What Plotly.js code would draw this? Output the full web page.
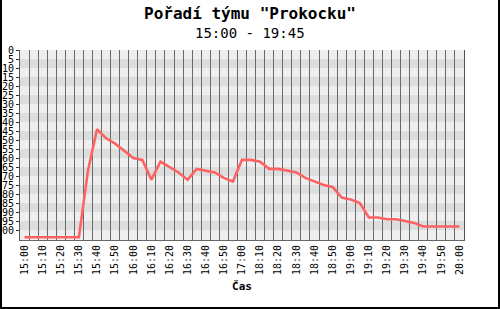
<!DOCTYPE html>
<html>
<head>
<meta charset="utf-8">
<script src="https://cdn.plot.ly/plotly-3.0.1.min.js"></script>
<style>
html,body{margin:0;padding:0;background:#fff;}
#chart{width:500px;height:309px;}
</style>
</head>
<body>
<div id="chart"></div>
<script>
// Time categories (x axis)
const times = [
  "15:00","15:05","15:10","15:15","15:20","15:25","15:30","15:35","15:40","15:45",
  "15:50","15:55","16:00","16:05","16:10","16:15","16:20","16:25","16:30","16:35",
  "16:40","16:45","16:50","16:55","17:00","18:05","18:10","18:15","18:20","18:25",
  "18:30","18:35","18:40","18:45","18:50","18:55","19:00","19:05","19:10","19:15",
  "19:20","19:25","19:30","19:35","19:40","19:45","19:50","19:55","20:00"
];
// Team rank at each time
const rank = [
  104,104,104,104,104,104,104,67,44,49,
  52,56,60,61,72,62,65,68,72,66,
  67,68,71,73,61,61,62,66,66,67,
  68,71,73,75,76,82,83,85,93,93,
  94,94,95,96,98,98,98,98,98
];
// Y tick labels
const yTicks = [0,5,10,15,20,25,30,35,40,45,50,55,60,65,70,75,80,85,90,95,100];
const titleText = 'Pořadí týmu "Prokocku"';
const subtitleText = '15:00 - 19:45';
const xTitle = 'Čas';

const mono = 'DejaVu Sans Mono';
const W = 500, H = 309;
const L = 20, R = 36, T = 50, B = 69;
const pw = W - L - R, ph = H - T - B;
const px = v => (v - L) / pw;
const py = v => (H - B - v) / ph;

const shapes = [];
// alternating horizontal bands
for (let i = 0; i < yTicks.length - 1; i++) {
  if (i % 2 === 1) {
    shapes.push({type:'rect', xref:'paper', yref:'y', x0:0, x1:1,
      y0:yTicks[i], y1:yTicks[i+1], fillcolor:'#dddddd', line:{width:0}, layer:'below'});
  }
}
// outer frame
const frame = {type:'rect', xref:'paper', yref:'paper', line:{width:0}, fillcolor:'#000'};
shapes.push(Object.assign({}, frame, {x0:px(0), x1:px(2), y0:py(H), y1:py(0)}));
shapes.push(Object.assign({}, frame, {x0:px(498), x1:px(500), y0:py(H), y1:py(0)}));
shapes.push(Object.assign({}, frame, {x0:px(0), x1:px(500), y0:py(H), y1:py(307)}));

const trace = {
  type:'scatter', mode:'lines', x: times, y: rank,
  line:{color:'#ff6262', width:2.6}, hoverinfo:'skip'
};

const layout = {
  width: W, height: H,
  margin:{l:L, r:R, t:T, b:B, pad:0},
  paper_bgcolor:'#ffffff', plot_bgcolor:'#eeeeee',
  showlegend:false,
  title:{
    text:'<b>' + titleText + '</b>',
    font:{family:mono, size:16, color:'#000'},
    x:0.5, xref:'container', xanchor:'center',
    y:0.975, yref:'container', yanchor:'top'
  },
  annotations:[{
    text: subtitleText, xref:'paper', yref:'paper',
    x: px(250), y: py(33), xanchor:'center', yanchor:'middle',
    showarrow:false, font:{family:mono, size:14, color:'#000'}
  }],
  xaxis:{
    type:'category', categoryorder:'array', categoryarray: times,
    range:[-0.5, times.length - 0.5],
    tickson:'boundaries',
    tickmode:'array', tickvals: times,
    ticktext: times.map((t,i) => i % 2 === 0 ? t : ''),
    tickangle:-90, ticks:'',
    tickfont:{family:mono, size:10, color:'#000'},
    showgrid:true, gridcolor:'#6a6a6a', gridwidth:1,
    showline:true, linecolor:'#666', linewidth:1,
    zeroline:false, automargin:false,
    title:{text:'<b>' + xTitle + '</b>', font:{family:mono, size:11, color:'#000'}, standoff:8}
  },
  yaxis:{
    range:[105.5, 0], autorange:false,
    tickmode:'array', tickvals: yTicks, ticktext: yTicks.map(String),
    ticks:'outside', ticklen:3, tickcolor:'#333',
    tickfont:{family:mono, size:10, color:'#000'},
    showgrid:false, zeroline:false,
    showline:true, linecolor:'#555', linewidth:1, mirror:true,
    automargin:false
  },
  shapes: shapes
};

Plotly.newPlot('chart', [trace], layout, {displayModeBar:false, staticPlot:true});
</script>
</body>
</html>
